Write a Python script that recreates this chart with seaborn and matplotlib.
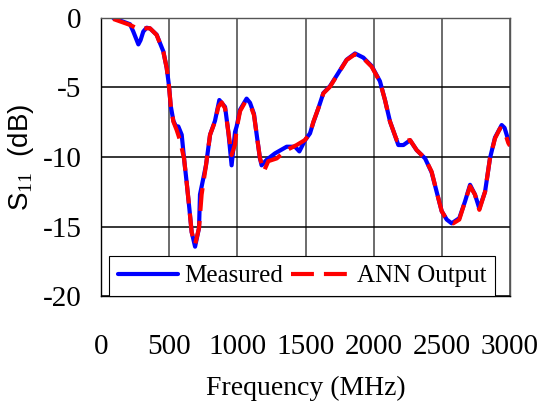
import numpy as np
import matplotlib
matplotlib.use("Agg")
import matplotlib.pyplot as plt
import seaborn as sns
import pandas as pd

sns.set_style("white")
plt.rcParams['font.family'] = ['Liberation Serif', 'DejaVu Serif']
plt.rcParams['axes.unicode_minus'] = False
plt.rcParams['mathtext.fontset'] = 'custom'
plt.rcParams['mathtext.rm'] = 'Liberation Serif'
plt.rcParams['text.color'] = 'black'
plt.rcParams['axes.labelcolor'] = 'black'

# measured S11 (blue)
freq_meas = [90, 213, 237, 262, 274, 290, 310, 335, 359, 408, 457, 482, 499, 511, 531, 555, 567, 592, 609, 628,
             648, 665, 690, 719, 726, 770, 800, 836, 868, 910, 934, 958, 983, 995, 1020, 1068, 1093, 1122, 1142,
             1166, 1178, 1215, 1276, 1362, 1423, 1455, 1496, 1533, 1558, 1594, 1631, 1680, 1741, 1802, 1863,
             1924, 1985, 2046, 2083, 2120, 2181, 2218, 2267, 2315, 2377, 2425, 2462, 2499, 2536, 2572, 2628,
             2670, 2707, 2743, 2775, 2817, 2853, 2890, 2939, 2960, 2988, 3000]
s11_meas = [0.0, -0.45, -0.98, -1.6, -1.9, -1.6, -0.98, -0.7, -0.75, -1.2, -2.4, -3.6, -4.9, -6.3, -7.4, -7.9,
            -7.8, -8.4, -10.1, -11.8, -13.7, -15.4, -16.45, -15.1, -12.7, -10.6, -8.4, -7.4, -5.9, -6.4, -8.2,
            -10.6, -8.2, -7.8, -6.6, -5.8, -6.1, -6.9, -8.4, -10.1, -10.6, -10.2, -9.74, -9.26, -9.26, -9.6, -8.8,
            -8.3, -7.5, -6.5, -5.4, -4.9, -3.95, -3.0, -2.55, -2.85, -3.45, -4.55, -5.9, -7.45, -9.14, -9.14,
            -8.8, -9.5, -10.1, -11.1, -12.5, -13.9, -14.5, -14.77, -14.4, -13.2, -12.0, -12.7, -13.7, -12.5,
            -10.1, -8.6, -7.7, -7.9, -8.8, -9.1]

# ANN output (red)
freq_ann = [90, 213, 262, 359, 408, 457, 482, 499, 511, 531, 555, 579, 609, 628, 648, 665, 690, 719, 738, 770,
            800, 836, 860, 885, 910, 934, 958, 983, 995, 1020, 1056, 1093, 1122, 1142, 1166, 1196, 1227, 1289,
            1362, 1435, 1496, 1533, 1558, 1594, 1631, 1680, 1741, 1802, 1863, 1924, 1985, 2046, 2083, 2120,
            2169, 2218, 2267, 2315, 2377, 2425, 2462, 2499, 2536, 2584, 2628, 2670, 2707, 2743, 2775, 2817,
            2853, 2890, 2927, 2956, 2988, 3000]
s11_ann = [-0.07, -0.5, -0.74, -0.74, -1.22, -2.42, -3.6, -4.94, -6.26, -7.46, -8.06, -8.78, -10.1, -11.8, -13.7,
           -15.4, -16.3, -15.1, -12.7, -10.6, -8.4, -7.46, -6.4, -6.07, -6.5, -8.2, -9.86, -9.1, -7.94, -6.7,
           -6.07, -6.2, -6.98, -8.4, -10.1, -11.0, -10.3, -10.1, -9.5, -9.14, -8.78, -8.3, -7.46, -6.5, -5.42,
           -4.94, -3.98, -3.02, -2.61, -2.9, -3.5, -4.58, -5.9, -7.46, -8.78, -8.9, -8.78, -9.5, -10.1, -11.05,
           -12.5, -13.9, -14.5, -14.77, -14.5, -13.2, -12.1, -12.7, -13.8, -12.5, -10.1, -8.66, -7.94, -8.06,
           -9.0, -9.2]

df_meas = pd.DataFrame({'f': freq_meas, 's11': s11_meas})
df_ann = pd.DataFrame({'f': freq_ann, 's11': s11_ann})

fig = plt.figure(figsize=(5.41, 4.05), dpi=100)
ax = fig.add_axes([0.1867, 0.2691, 0.756, 0.6865])

sns.lineplot(data=df_meas, x='f', y='s11', ax=ax, color='#0000FF', lw=3.0, label='Measured')
sns.lineplot(data=df_ann, x='f', y='s11', ax=ax, color='#FF0000', lw=3.0, label='ANN Output')
ax.lines[1].set_dashes((5.5, 2.4))

ax.set_xlim(0, 3000)
ax.set_ylim(-20, 0)
ax.set_xticks(range(0, 3001, 500))
ax.set_yticks(range(-20, 1, 5))
ax.grid(True, color='black', lw=1.1)
for gl in ax.get_xgridlines():
    gl.set_color('#444444')
ax.set_axisbelow(True)
for s in ax.spines.values():
    s.set_color('black')
    s.set_linewidth(1.0)
ax.spines['right'].set_color('#555555')
ax.spines['top'].set_color('#555555')

ax.tick_params(axis='both', direction='out', width=1, labelsize=21, colors='black')
ax.tick_params(axis='x', length=8, pad=19)
ax.tick_params(axis='y', length=5, pad=9)

ax.set_xlabel('Frequency (MHz)', fontsize=20, labelpad=12)
ax.set_ylabel('S$_{\\mathrm{11}}$  (dB)', fontsize=20, family=['Liberation Sans', 'DejaVu Sans'])
ax.yaxis.set_label_coords(-0.158, 0.5)

leg = ax.legend(loc='lower left', bbox_to_anchor=(0.02, 0.0), ncol=2,
                fontsize=18, frameon=True, fancybox=False, edgecolor='black', framealpha=1,
                handlelength=2.4, borderaxespad=0, borderpad=0.35, columnspacing=0.3, handletextpad=0.25)
leg.get_frame().set_linewidth(0.8)

fig.savefig('out.png', dpi=100)
